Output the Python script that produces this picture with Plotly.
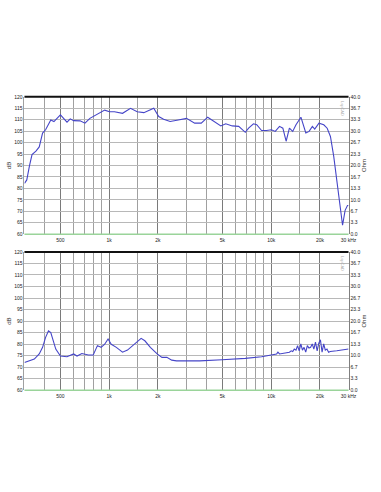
import math
import plotly.graph_objects as go

# ---- data: top chart (SPL, dB) ----
spl_freq = [300, 310, 322, 334, 353, 370, 388, 405, 436, 456,
            500, 549, 575, 603, 661, 709, 760, 816, 875, 938,
            1005, 1078, 1209, 1354, 1489, 1636, 1884, 2021, 2167, 2378,
            2670, 3000, 3370, 3700, 4055, 4450, 4885, 5240, 5750, 6300,
            6920, 7250, 7770, 8140, 8720, 9350, 10020, 10590, 11250, 11800,
            12360, 12950, 13570, 14220, 15250, 16350, 17130, 17950, 18560, 19700,
            21100, 22150, 23200, 24300, 25450, 26700, 27560, 28580, 29550, 30000]
spl_db = [82.2, 83.7, 89.8, 94.8, 96.3, 98.1, 104.2, 105.6, 109.9, 109.2,
          112.1, 108.9, 110.4, 109.6, 109.5, 108.5, 110.6, 111.7, 112.8, 114.2,
          113.5, 113.5, 112.8, 115.0, 113.5, 113.1, 115.0, 111.4, 110.2, 109.2,
          109.9, 110.6, 108.5, 108.5, 111.1, 109.2, 107.3, 108.2, 107.3, 107.1,
          104.5, 106.3, 108.2, 107.8, 105.3, 105.3, 105.6, 104.9, 107.1, 106.3,
          100.6, 106.3, 104.9, 107.8, 111.1, 104.2, 104.9, 107.1, 105.9, 108.5,
          107.8, 106.3, 102.7, 94.1, 82.6, 71.1, 63.9, 70.4, 72.5, 72.5]

# ---- data: bottom chart (impedance, Ohm) ----
imp_freq = [300, 322, 345, 370, 388, 405, 422, 436, 450, 468,
            500, 549, 603, 633, 678, 744, 797, 846, 891, 938,
            984, 1030, 1107, 1209, 1297, 1393, 1489, 1574, 1660, 1795,
            1977, 2117, 2270, 2431, 2604, 3620, 4980, 6920, 8720, 10020,
            10800, 11000, 11250, 12950, 13280, 13570, 13880, 14220, 14540, 14880,
            15230, 15590, 15950, 16330, 16710, 17100, 17510, 17920, 18330, 18760,
            19210, 19660, 20120, 20600, 21080, 21570, 22080, 22600, 23130, 25380,
            27840, 30000]
imp_ohm = [8.0, 8.5, 9.0, 10.5, 12.4, 15.3, 17.2, 16.7, 14.8, 11.9,
           9.9, 9.7, 10.5, 9.9, 10.6, 10.2, 10.2, 12.9, 12.4, 13.3,
           14.8, 13.3, 12.4, 11.0, 11.6, 12.9, 13.9, 15.0, 14.3, 12.4,
           10.5, 9.5, 9.5, 8.7, 8.5, 8.5, 8.8, 9.2, 9.7, 10.3,
           10.5, 11.0, 10.5, 11.0, 11.4, 11.2, 11.9, 11.6, 12.9, 11.4,
           13.4, 11.6, 12.4, 11.0, 12.9, 12.2, 12.4, 13.4, 11.9, 13.9,
           11.4, 13.6, 14.6, 11.0, 13.4, 11.6, 11.9, 11.0, 11.2, 11.4,
           11.6, 11.9]

# ---- axis ticks ----
x_tick_vals = [500, 1000, 2000, 5000, 10000, 20000, 30000]
x_tick_text = ["500", "1k", "2k", "5k", "10k", "20k", "30 kHz"]
x_minor_vals = [400, 600, 700, 800, 900, 1500, 3000, 4000, 6000, 7000, 8000, 9000, 15000]
db_ticks = [60, 65, 70, 75, 80, 85, 90, 95, 100, 105, 110, 115, 120]
ohm_ticks = [40 * k / 12 for k in range(13)]
ohm_text = ["%.1f" % v for v in ohm_ticks]

W, H = 381, 492
xdom = [25 / W, 356 / W]
top_dom = [1 - 234 / H, 1 - 95 / H]
bot_dom = [1 - 392 / H, 1 - 252 / H]

line_col = "#4545c8"
tick_font = dict(family="Liberation Sans, Arial, sans-serif", size=5, color="#222222")

fig = go.Figure()
# invisible anchor traces so every axis gets drawn
fig.add_trace(go.Scatter(x=[1000], y=[20], mode="markers", xaxis="x", yaxis="y2",
                         marker=dict(opacity=0), showlegend=False, hoverinfo="skip"))
fig.add_trace(go.Scatter(x=[1000], y=[90], mode="markers", xaxis="x2", yaxis="y3",
                         marker=dict(opacity=0), showlegend=False, hoverinfo="skip"))
fig.add_trace(go.Scatter(x=spl_freq, y=spl_db, mode="lines", xaxis="x", yaxis="y",
                         line=dict(color=line_col, width=1.1), showlegend=False, hoverinfo="skip"))
fig.add_trace(go.Scatter(x=imp_freq, y=imp_ohm, mode="lines", xaxis="x2", yaxis="y4",
                         line=dict(color=line_col, width=1.1), showlegend=False, hoverinfo="skip"))


def xax(anchor):
    return dict(type="log", range=[math.log10(300), math.log10(30000)], domain=xdom,
                anchor=anchor, tickmode="array", tickvals=x_tick_vals, ticktext=x_tick_text,
                showgrid=True, gridcolor="#7a7a7a", gridwidth=1, zeroline=False,
                ticks="", tickfont=tick_font, showline=False, ticklabelstandoff=2,
                minor=dict(tickmode="array", tickvals=x_minor_vals, showgrid=True,
                           gridcolor="#a0a0a0", gridwidth=1, ticks=""))


def yax_left(dom, anchor):
    return dict(domain=dom, anchor=anchor, range=[60, 120], tickmode="array", tickvals=db_ticks,
                showgrid=True, gridcolor="#b8b8b8", gridwidth=1, zeroline=False, ticks="",
                tickfont=tick_font, showline=True, linecolor="#a0a0a0", linewidth=1,
                title=dict(text="dB", font=dict(family="Liberation Sans, Arial", size=6, color="#333333"),
                           standoff=2))


def yax_right(dom, over, anchor):
    return dict(domain=dom, overlaying=over, anchor=anchor, side="right", range=[0, 40],
                tickmode="array", tickvals=ohm_ticks, ticktext=ohm_text, showgrid=False,
                zeroline=False, ticks="", tickfont=tick_font, showline=True, linecolor="#808080",
                linewidth=1,
                title=dict(text="Ohm", font=dict(family="Liberation Sans, Arial", size=6, color="#333333"),
                           standoff=2))


fig.update_layout(
    width=W, height=H, margin=dict(l=0, r=0, t=0, b=0),
    paper_bgcolor="white", plot_bgcolor="rgba(0,0,0,0)", showlegend=False,
    xaxis=xax("y"), yaxis=yax_left(top_dom, "x"), yaxis2=yax_right(top_dom, "y", "x"),
    xaxis2=xax("y3"), yaxis3=yax_left(bot_dom, "x2"), yaxis4=yax_right(bot_dom, "y3", "x2"),
)

shapes = []
for xr, yr in (("x", "y"), ("x2", "y3")):
    shapes.append(dict(type="line", xref=xr + " domain", yref=yr + " domain", x0=0, x1=1, y0=1, y1=1,
                       line=dict(color="#111111", width=2)))
    shapes.append(dict(type="line", xref=xr + " domain", yref=yr + " domain", x0=0, x1=1, y0=0, y1=0,
                       line=dict(color="#9ad49a", width=1.5)))
fig.update_layout(shapes=shapes)

ann = []
for xr, yr in (("x", "y"), ("x2", "y3")):
    ann.append(dict(xref=xr + " domain", yref=yr + " domain", x=0.995, y=0.985, xanchor="right",
                    yanchor="top", text="LspCAD", textangle=90, showarrow=False,
                    font=dict(family="Liberation Sans, Arial", size=4, color="#aaaaaa")))
fig.update_layout(annotations=ann)

fig.write_html("out.html")
